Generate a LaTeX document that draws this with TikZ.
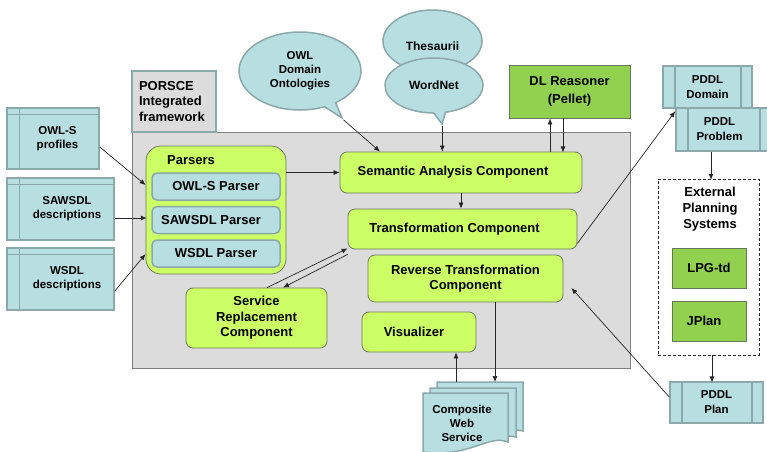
\documentclass[tikz,border=0pt]{standalone}
\usepackage{fontspec}
\setmainfont{Liberation Sans}
\usetikzlibrary{shapes.callouts,shapes.geometric,arrows.meta,calc}
\definecolor{lime}{HTML}{CCFF66}
\definecolor{compb}{HTML}{6E7A62}
\definecolor{docf}{HTML}{B7DEE1}
\definecolor{docb}{HTML}{8BA8AB}
\definecolor{grn}{HTML}{92D050}
\definecolor{grnb}{HTML}{66785A}
\definecolor{panel}{HTML}{DCDCDC}
\definecolor{panelb}{HTML}{7F7F7F}
\definecolor{linec}{HTML}{262626}
\newcommand{\bigf}{\bfseries\fontsize{13}{15.5}\selectfont}
\newcommand{\smf}{\bfseries\fontsize{11.5}{14}\selectfont}
\begin{document}
\begin{tikzpicture}[x=1pt,y=-1pt,
  every node/.style={font=\bigf, align=center, inner sep=1pt},
  comp/.style={draw=compb, fill=lime, rounded corners=7pt, line width=0.8pt},
  pitem/.style={draw=docb, fill=docf, rounded corners=5pt, line width=1.5pt,
    minimum width=128pt, minimum height=27pt},
  docbox/.style={draw=docb, fill=docf, line width=1.5pt, font=\smf,
    path picture={
      \draw[docb,line width=1.5pt] ([xshift=12.5pt]path picture bounding box.north west) -- ([xshift=12.5pt]path picture bounding box.south west);
      \draw[docb,line width=1.5pt] ([yshift=-6.5pt]path picture bounding box.north west) -- ([yshift=-6.5pt]path picture bounding box.north east);}},
  procbox/.style={draw=docb, fill=docf, line width=1.5pt,
    font=\bfseries\fontsize{11.5}{15}\selectfont,
    path picture={
      \draw[docb,line width=1.5pt] ([xshift=12pt]path picture bounding box.north west) -- ([xshift=12pt]path picture bounding box.south west);
      \draw[docb,line width=1.5pt] ([xshift=-11pt]path picture bounding box.north east) -- ([xshift=-11pt]path picture bounding box.south east);}},
  greenbox/.style={draw=grnb, fill=grn, line width=0.8pt},
  bubble/.style={draw=docb, fill=docf, line width=1.5pt, inner sep=0pt},
  cwsdoc/.style={draw=docb, fill=docf, line width=1.5pt},
  arr/.style={draw=linec, line width=0.7pt, -{Latex[length=6pt,width=5pt]}}
]
\useasboundingbox (0,0) rectangle (767,451);

% main panel
\node[draw=panelb, fill=panel, line width=0.8pt, minimum width=498pt, minimum height=236pt] (panel) at (381,250) {};
\node[draw=docb, fill=panel, line width=1.5pt, minimum width=84pt, minimum height=61pt,
      text width=70pt, align=left, inner xsep=7pt] (porsce) at (174,101.5)
      {\fontsize{13}{15.5}\selectfont PORSCE\\Integrated\\framework};

% input documents
\node[docbox, minimum width=92pt, minimum height=61pt] (owls) at (53,138.5)
  {\hspace*{9pt}\begin{tabular}{@{}c@{}}OWL-S\\profiles\end{tabular}};
\node[docbox, minimum width=107pt, minimum height=62pt] (saw) at (60.5,209)
  {\hspace*{13pt}\begin{tabular}{@{}c@{}}SAWSDL\\descriptions\end{tabular}};
\node[docbox, minimum width=107pt, minimum height=62pt] (wsdl) at (60.5,279)
  {\hspace*{13pt}\begin{tabular}{@{}c@{}}WSDL\\descriptions\end{tabular}};

% parsers
\node[comp, rounded corners=15pt, minimum width=140pt, minimum height=128pt] (pars) at (216,210) {};
\node[anchor=west] (parslbl) at (166,160) {Parsers};
\node[pitem] (p1) at (216,186.5) {OWL-S Parser};
\node[pitem] (p2) at (216,220) {\hspace*{-10pt}SAWSDL Parser};
\node[pitem] (p3) at (216,253.5) {WSDL Parser};

% components
\node[comp, minimum width=242pt, minimum height=41pt] (sem) at (461,172.5) {\hspace*{-16pt}Semantic Analysis Component};
\node[comp, minimum width=229pt, minimum height=40pt] (trans) at (462.5,229) {\hspace*{-16pt}Transformation Component};
\node[comp, minimum width=195pt, minimum height=47pt, font=\bfseries\fontsize{13}{15}\selectfont] (rtc) at (465.5,278.5) {Reverse Transformation\\Component};
\node[comp, minimum width=114pt, minimum height=40pt] (vis) at (419,332) {\hspace*{-10pt}Visualizer};
\node[comp, minimum width=141pt, minimum height=60pt] (srv) at (256.5,318) {Service\\Replacement\\Component};

% callouts
\coordinate (owltip) at (342,118);
\node[bubble, ellipse callout, callout absolute pointer={(owltip)}, callout pointer arc=12,
      minimum width=122pt, minimum height=78pt, font=\smf] (owl) at (300,71) {OWL\\Domain\\Ontologies};
\node[bubble, ellipse, minimum width=99pt, minimum height=62pt,
      font=\bfseries\fontsize{12}{14}\selectfont] (thes) at (432.5,41) {\raisebox{-9pt}[0pt][0pt]{Thesaurii}};
\coordinate (wntip) at (442,124);
\node[bubble, ellipse callout, callout absolute pointer={(wntip)}, callout pointer arc=14,
      minimum width=98pt, minimum height=55pt,
      font=\bfseries\fontsize{12}{14}\selectfont] (wn) at (434,85.5) {WordNet};

% reasoner
\node[greenbox, minimum width=121pt, minimum height=53pt,
      font=\bfseries\fontsize{13}{17.5}\selectfont] (dl) at (569.5,91.5) {DL Reasoner\\(Pellet)};

% PDDL side
\node[procbox, minimum width=89pt, minimum height=42pt] (dom) at (707.5,87) {PDDL\\Domain};
\node[procbox, minimum width=95pt, minimum height=43pt] (prob) at (723.5,129.5) {\hspace*{-8pt}\begin{tabular}{@{}c@{}}PDDL\\Problem\end{tabular}};
\node[draw=linec, dashed, dash pattern=on 3pt off 2pt, line width=0.8pt, fill=white,
      minimum width=101pt, minimum height=176pt] (ext) at (708.5,267) {};
\node[font=\bfseries\fontsize{13}{16}\selectfont] (exttxt) at (710,209) {External\\Planning\\Systems};
\node[greenbox, minimum width=74pt, minimum height=40pt] (lpg) at (709,268) {LPG-td};
\node[greenbox, minimum width=74pt, minimum height=40pt] (jplan) at (709,321) {\hspace*{-10pt}JPlan};
\node[procbox, minimum width=93pt, minimum height=41pt] (plan) at (716.5,402.5) {PDDL\\Plan};

% composite web service (multi-document)
\path[cwsdoc] (437,382) -- (523,382) -- (523,431) .. controls (505,426) and (480,442) .. (437,438) -- cycle;
\path[cwsdoc] (430,388) -- (516,388) -- (516,437) .. controls (498,432) and (473,448) .. (430,444) -- cycle;
\path[cwsdoc] (423,393) -- (508,393) -- (508,442) .. controls (488,434) and (470,458) .. (423,452) -- cycle;
\node[font=\smf] (cws) at (462,423) {Composite\\Web\\Service};
\coordinate (cwsin) at (495,382);
\coordinate (cwsout) at (456,382);

% connectors
\draw[arr] ([yshift=-8.5pt]owls.east) -- ([yshift=25pt]pars.west);
\draw[arr] ([yshift=-9pt]saw.east) -- ++(32,0);
\draw[arr] ([yshift=-12pt]wsdl.east) -- ([yshift=-44pt]pars.west);
\draw[arr] (pars.east |- sem.west) -- (sem.west);
\draw[arr] (owl.pointer) -- ([xshift=-81pt]sem.north);
\draw[arr] (wn.pointer) -- (wn.pointer |- sem.north);
\draw[arr] ([xshift=-19.5pt,yshift=-34pt]dl.south) -- ([xshift=-19.5pt]dl.south);
\draw[arr] ([xshift=-6.5pt]dl.south) -- ++(0,34);
\draw[arr] (sem.south) -- (sem.south |- trans.north);
\draw[arr] ([yshift=6pt]trans.south east) -- ([yshift=-4pt]prob.north west);
\draw[arr] ([xshift=-12.5pt]prob.south) -- ++(0,28);
\draw[arr] ([xshift=3.5pt]ext.south) -- ++(0,27);
\draw[arr] ([yshift=5.5pt]plan.west) -- ([xshift=8pt,yshift=-9.5pt]rtc.east);
\draw[arr] ([xshift=10.5pt]srv.north) -- ([yshift=1pt]trans.south west);
\draw[arr] ([yshift=-5pt]trans.south west) -- ([xshift=26.5pt]srv.north);
\draw[arr] ([xshift=29.5pt]rtc.south) -- (cwsin);
\draw[arr] (cwsout) -- ([xshift=37pt]vis.south);
\end{tikzpicture}
\end{document}
